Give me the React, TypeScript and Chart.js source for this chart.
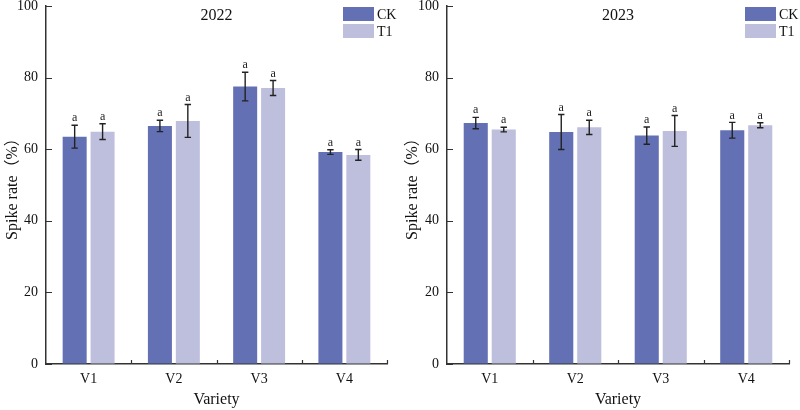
import React, { useEffect, useRef } from "react";
import { Chart, registerables } from "chart.js";

Chart.register(...registerables);

const categories = ["V1", "V2", "V3", "V4"];
const seriesNames = ["CK", "T1"];
const seriesColors = ["#6370B3", "#BEBFDD"];

const ck2022 = [63.5, 66.5, 77.5, 59.2];
const ck2022Err = [3.2, 1.6, 4.0, 0.65];
const t12022 = [64.9, 67.9, 77.1, 58.4];
const t12022Err = [2.2, 4.6, 2.1, 1.5];
const letters2022CK = ["a", "a", "a", "a"];
const letters2022T1 = ["a", "a", "a", "a"];

const ck2023 = [67.3, 64.8, 63.8, 65.3];
const ck2023Err = [1.6, 4.9, 2.4, 2.2];
const t12023 = [65.5, 66.1, 65.1, 66.7];
const t12023Err = [0.65, 2.0, 4.3, 0.7];
const letters2023CK = ["a", "a", "a", "a"];
const letters2023T1 = ["a", "a", "a", "a"];

const yTicks = [0, 20, 40, 60, 80, 100];

const FONT = "'Liberation Serif', 'Times New Roman', 'Noto Sans CJK SC', serif";

type PanelProps = {
  title: string;
  ck: number[];
  ckErr: number[];
  t1: number[];
  t1Err: number[];
  ckLetters: string[];
  t1Letters: string[];
  yAxisWidth: number;
  padRight: number;
};

function Panel(props: PanelProps) {
  const ref = useRef<HTMLCanvasElement | null>(null);
  useEffect(() => {
    if (!ref.current) return;
    const errs = [props.ckErr, props.t1Err];
    const letters = [props.ckLetters, props.t1Letters];
    const overlay = {
      id: "overlay",
      afterDatasetsDraw(chart: any) {
        const ctx = chart.ctx;
        const y = chart.scales.y;
        ctx.save();
        chart.data.datasets.forEach((ds: any, i: number) => {
          const meta = chart.getDatasetMeta(i);
          meta.data.forEach((bar: any, j: number) => {
            const v = ds.data[j];
            const e = errs[i][j];
            const x = bar.x;
            const yt = y.getPixelForValue(v + e);
            const yb = y.getPixelForValue(v - e);
            ctx.strokeStyle = "#222";
            ctx.lineWidth = 1.4;
            ctx.beginPath();
            ctx.moveTo(x, yt);
            ctx.lineTo(x, yb);
            ctx.moveTo(x - 3.2, yt);
            ctx.lineTo(x + 3.2, yt);
            ctx.moveTo(x - 3.2, yb);
            ctx.lineTo(x + 3.2, yb);
            ctx.stroke();
            ctx.fillStyle = "#222";
            ctx.font = "12px " + FONT;
            ctx.textAlign = "center";
            ctx.textBaseline = "bottom";
            ctx.fillText(letters[i][j], x, yt - 1);
          });
        });
        ctx.restore();
      },
      afterDraw(chart: any) {
        const ctx = chart.ctx;
        const area = chart.chartArea;
        const xs = chart.scales.x;
        const ys = chart.scales.y;
        ctx.save();
        ctx.strokeStyle = "#333";
        ctx.lineWidth = 1.2;
        ctx.beginPath();
        yTicks.forEach((t) => {
          const py = Math.round(ys.getPixelForValue(t)) + 0.5;
          ctx.moveTo(area.left, py);
          ctx.lineTo(area.left + 6, py);
        });
        for (let i = 1; i <= categories.length; i++) {
          const px = Math.round(xs.getPixelForValue(i - 0.5)) + 0.5;
          ctx.moveTo(px, area.bottom);
          ctx.lineTo(px, area.bottom - 4);
        }
        ctx.stroke();
        // title
        ctx.fillStyle = "#111";
        ctx.font = "16px " + FONT;
        ctx.textAlign = "center";
        ctx.textBaseline = "middle";
        ctx.fillText(props.title, (area.left + area.right) / 2, 16);
        // legend
        const lx = area.right - 44;
        seriesNames.forEach((n, i) => {
          const top = 7 + i * 17;
          ctx.fillStyle = seriesColors[i];
          ctx.fillRect(lx, top, 31, 14);
          ctx.fillStyle = "#111";
          ctx.font = "14px " + FONT;
          ctx.textAlign = "left";
          ctx.textBaseline = "middle";
          ctx.fillText(n, lx + 34, top + 8);
        });
        ctx.restore();
      },
    };
    const chart = new Chart(ref.current, {
      type: "bar",
      data: {
        labels: categories,
        datasets: [
          {
            label: seriesNames[0],
            data: props.ck,
            backgroundColor: seriesColors[0],
            barPercentage: 0.86,
            categoryPercentage: 0.655,
          },
          {
            label: seriesNames[1],
            data: props.t1,
            backgroundColor: seriesColors[1],
            barPercentage: 0.86,
            categoryPercentage: 0.655,
          },
        ],
      },
      options: {
        responsive: false,
        animation: false,
        events: [],
        layout: { padding: { left: 0, right: props.padRight, top: 6, bottom: 0 } },
        plugins: { legend: { display: false }, tooltip: { enabled: false } },
        scales: {
          x: {
            grid: { display: true, drawOnChartArea: false, drawTicks: false },
            border: { display: true, color: "#333", width: 1.5 },
            ticks: { color: "#111", font: { family: FONT, size: 14 }, padding: 7 },
            title: {
              display: true,
              text: "Variety",
              color: "#111",
              font: { family: FONT, size: 16 },
              padding: { top: 0, bottom: 1 },
            },
            afterFit: (s: any) => {
              s.height = 46;
              s.paddingLeft = 0;
              s.paddingRight = 0;
            },
          },
          y: {
            min: 0,
            max: 100,
            grid: { display: true, drawOnChartArea: false, drawTicks: false },
            border: { display: true, color: "#333", width: 1.5 },
            ticks: {
              stepSize: 20,
              color: "#111",
              font: { family: FONT, size: 14 },
              padding: 8,
            },
            title: {
              display: true,
              text: "Spike rate（%）",
              color: "#111",
              font: { family: FONT, size: 16 },
              padding: { top: 3, bottom: 0 },
            },
            afterFit: (s: any) => {
              s.width = props.yAxisWidth;
              s.paddingTop = 0;
              s.paddingBottom = 0;
            },
          },
        },
      },
      plugins: [overlay],
    } as any);
    return () => chart.destroy();
  }, []);
  return <canvas ref={ref} width={400} height={410} style={{ display: "block" }} />;
}

export default function App() {
  return (
    <div
      style={{
        position: "fixed",
        left: 0,
        top: 0,
        width: 800,
        height: 410,
        display: "flex",
        background: "#fff",
      }}
    >
      <Panel
        title="2022"
        ck={ck2022}
        ckErr={ck2022Err}
        t1={t12022}
        t1Err={t12022Err}
        ckLetters={letters2022CK}
        t1Letters={letters2022T1}
        yAxisWidth={46}
        padRight={13}
      />
      <Panel
        title="2023"
        ck={ck2023}
        ckErr={ck2023Err}
        t1={t12023}
        t1Err={t12023Err}
        ckLetters={letters2023CK}
        t1Letters={letters2023T1}
        yAxisWidth={47}
        padRight={11}
      />
    </div>
  );
}
